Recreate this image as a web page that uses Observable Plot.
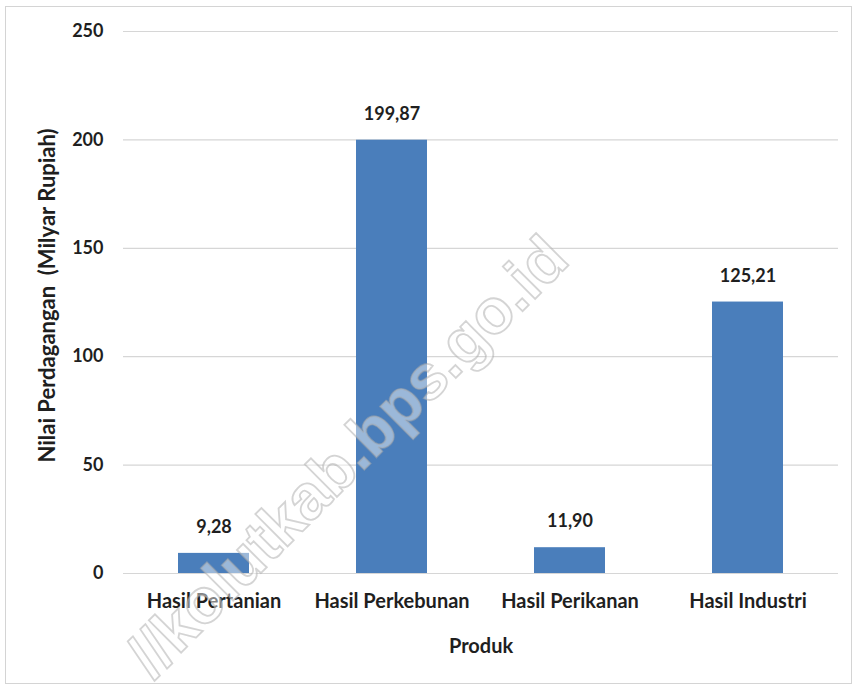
<!DOCTYPE html>
<html>
<head>
<meta charset="utf-8">
<script src="https://cdn.jsdelivr.net/npm/d3@7"></script>
<script src="https://cdn.jsdelivr.net/npm/@observablehq/plot@0.6"></script>
<style>
  html, body { margin: 0; padding: 0; background: #fff; }
  #wrap { position: relative; width: 859px; height: 689px; overflow: hidden; }
  #frame { position: absolute; left: 5px; top: 6px; width: 845px; height: 676px; border: 1.5px solid #d4d4d4; pointer-events: none; }
  #wm { position: absolute; left: 347px; top: 456px; transform: translate(-50%, -50%) rotate(-45deg);
        font-family: 'Liberation Sans', Arial, sans-serif; font-weight: bold; font-size: 63px; line-height: 0.8; white-space: nowrap;
        color: rgba(255,255,255,0.45); -webkit-text-stroke: 1.8px rgba(170,170,170,0.5); pointer-events: none; }
</style>
</head>
<body>
<div id="wrap"><div id="chart"></div><div id="frame"></div><div id="wm">//kolutkab.bps.go.id</div></div>
<script>
const produk = ["Hasil Pertanian", "Hasil Perkebunan", "Hasil Perikanan", "Hasil Industri"];
const nilai = [9.28, 199.87, 11.90, 125.21];
const nilaiLabel = ["9,28", "199,87", "11,90", "125,21"];
const yTicks = [0, 50, 100, 150, 200, 250];
const yTitle = "Nilai Perdagangan\u00a0 (Milyar Rupiah)";
const xTitle = "Produk";

const data = produk.map((p, i) => ({produk: p, nilai: nilai[i], label: nilaiLabel[i]}));

const chart = Plot.plot({
  width: 859,
  height: 689,
  marginLeft: 123,
  marginRight: 21,
  marginTop: 31,
  marginBottom: 116,
  style: {fontFamily: "Lato, 'Liberation Sans', sans-serif", fontSize: "18px", color: "#1f1f1f", background: "transparent"},
  x: {domain: produk, paddingInner: 0.6, paddingOuter: 0.3, label: null},
  y: {domain: [0, 250], label: null},
  marks: [
    Plot.gridY(yTicks, {stroke: "#d6d6d6", strokeOpacity: 1, strokeWidth: 1.2}),
    Plot.barY(data, {x: "produk", y: "nilai", fill: "#4a7ebb"}),
    Plot.text(data, {x: "produk", y: "nilai", text: "label", dy: -26, fontSize: 18, fontWeight: "bold", fill: "#1f1f1f"}),
    Plot.axisY(yTicks, {tickSize: 0, tickPadding: 20, fontWeight: "bold", fontSize: 18, label: null}),
    Plot.text([yTitle], {frameAnchor: "left", textAnchor: "middle", lineAnchor: "middle", rotate: -90, dx: -76, dy: -7, fontSize: 22, fontWeight: "bold", fill: "#1f1f1f"}),
    Plot.axisX({tickSize: 0, tickPadding: 20, fontWeight: "bold", fontSize: 20, label: xTitle, labelAnchor: "center", labelOffset: 79, labelArrow: "none"})
  ]
});
document.getElementById("chart").appendChild(chart);
</script>
</body>
</html>
